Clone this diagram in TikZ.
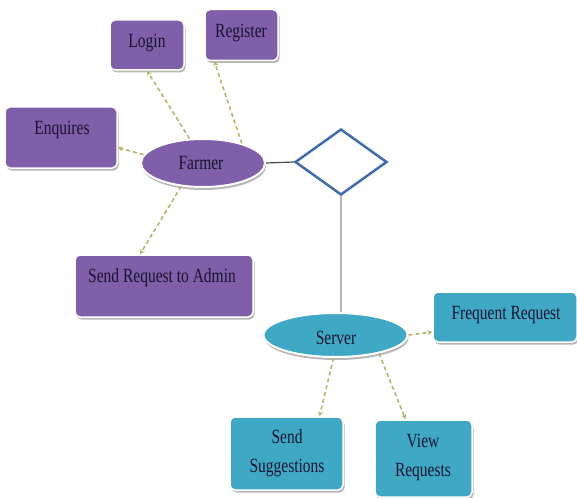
\documentclass[tikz,border=0pt]{standalone}
\usepackage{fontspec}
\usepackage{graphicx}
\setmainfont{Liberation Serif}
\usetikzlibrary{shapes.geometric,shadows,arrows.meta}
\definecolor{purp}{HTML}{7F5FA9}
\definecolor{aqua}{HTML}{3FA9C5}
\definecolor{dblue}{HTML}{3F6DAE}
\definecolor{olivearr}{HTML}{B3B868}
\definecolor{ink}{HTML}{17142E}
\newcommand{\tallt}[1]{\scalebox{1}[1.3]{#1}}
\begin{document}
\begin{tikzpicture}[x=1pt,y=-1pt,
  box/.style={draw=white, line width=1.5pt, rounded corners=5pt, inner sep=0pt,
    drop shadow={shadow xshift=1.5pt, shadow yshift=-2.5pt, fill=black!40, opacity=0.7}},
  pbox/.style={box, fill=purp},
  abox/.style={box, fill=aqua},
  ell/.style={ellipse, draw=white, line width=2pt, inner sep=0pt,
    drop shadow={shadow xshift=1pt, shadow yshift=-3pt, fill=black!40, opacity=0.7}},
  lbl/.style={text=ink, font=\fontsize{15.5}{22}\selectfont, inner sep=0pt},
  arr/.style={draw=olivearr, line width=1.6pt, dash pattern=on 4pt off 3pt,
    -{Stealth[length=5pt,width=5pt]}},
]
\useasboundingbox[fill=white] (0,0) rectangle (577,497);

% purple side
\node[pbox, minimum width=74pt, minimum height=50pt] (login) at (147,45) {};
\node[pbox, minimum width=73pt, minimum height=51pt] (register) at (241.5,35) {};
\node[pbox, minimum width=112pt, minimum height=61pt] (enq) at (61,137.5) {};
\node[pbox, minimum width=178pt, minimum height=62pt] (sendreq) at (164,286) {};
\node[ell, fill=purp, minimum width=124pt, minimum height=48pt] (farmer) at (203,163) {};

% relationship
\node[diamond, draw=dblue, line width=2.5pt, fill=white, inner sep=0pt,
      minimum width=92pt, minimum height=66pt] (rel) at (341,162) {};

% aqua side
\node[ell, fill=aqua, minimum width=144pt, minimum height=44pt] (server) at (335.5,335) {};
\node[abox, minimum width=144pt, minimum height=50pt] (freq) at (505,317) {};
\node[abox, minimum width=113pt, minimum height=73pt] (sugg) at (286.5,453.5) {};
\node[abox, minimum width=97pt, minimum height=77pt] (view) at (423.5,458.5) {};

% labels
\node[lbl] (tlogin) at (147,43) {\tallt{Login}};
\node[lbl] (treg) at (241,33) {\tallt{Register}};
\node[lbl] (tenq) at (62,130) {\tallt{Enquires}};
\node[lbl] (tfarmer) at (201,163) {\tallt{Farmer}};
\node[lbl] (tsendreq) at (162,278) {\tallt{Send Request to Admin}};
\node[lbl] (tserver) at (336,338) {\tallt{Server}};
\node[lbl] (tfreq) at (506,315) {\tallt{Frequent Request}};
\node[lbl] (tsugg) at (287,452.5) {\tallt{\begin{tabular}{@{}c@{}}Send\\Suggestions\end{tabular}}};
\node[lbl] (tview) at (423,456.5) {\tallt{\begin{tabular}{@{}c@{}}View\\Requests\end{tabular}}};

% connectors
\draw[black!70, line width=1.2pt] (farmer.east) -- (rel.west);
\draw[black!30, line width=1.5pt] (rel.south) -- (rel.south |- server.north);

\draw[arr] (farmer.119) -- (login.south);
\draw[arr] (farmer.27) -- ([xshift=10pt]register.south west);
\draw[arr] (farmer.172) -- ([yshift=-10pt]enq.east);
\draw[arr] (farmer.227) -- ([xshift=-24pt]sendreq.north);
\draw[arr] (server.east) -- ([yshift=-15pt]freq.west);
\draw[arr] (server.265) -- ([xshift=33pt]sugg.north);
\draw[arr] (server.337) -- ([xshift=-18pt]view.north);
\end{tikzpicture}
\end{document}
